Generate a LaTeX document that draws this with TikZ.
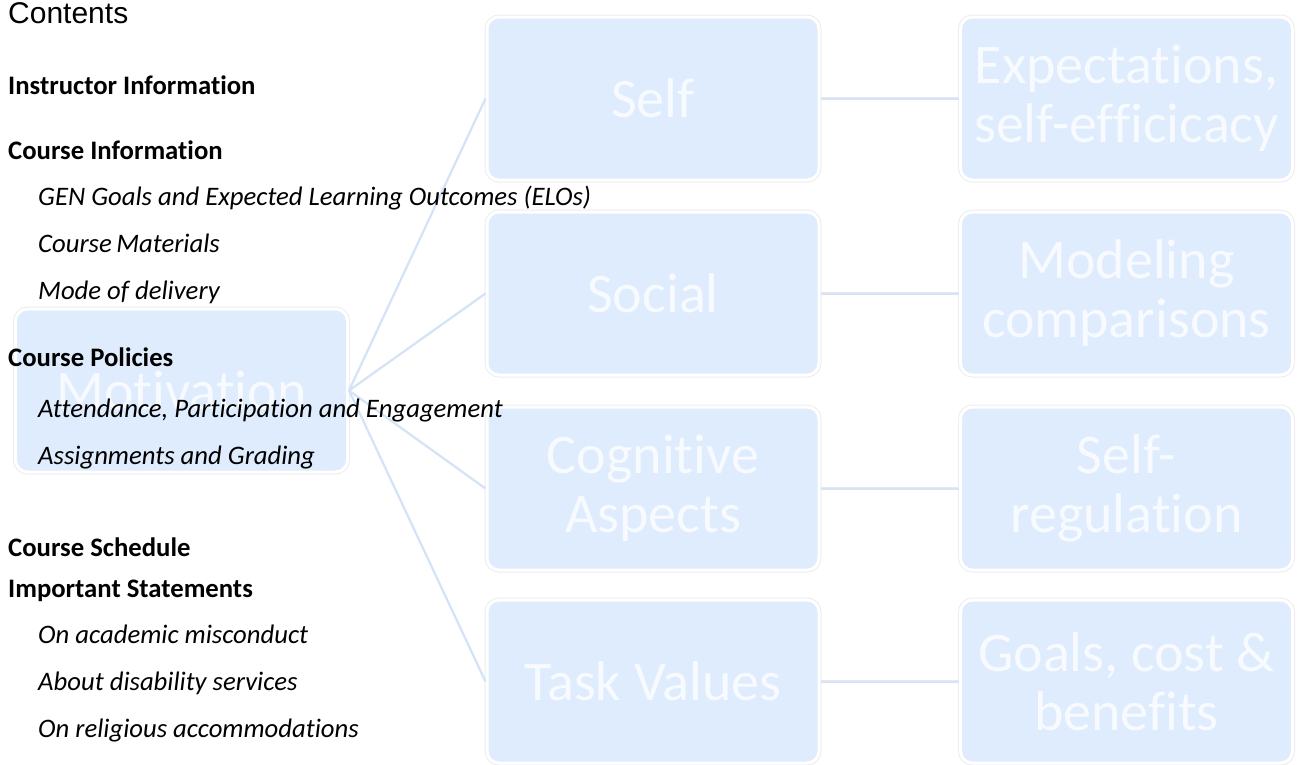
\documentclass[tikz,border=0pt]{standalone}
\usepackage{fontspec}
\setmainfont{Carlito}[RawFeature={-liga;-clig;-calt}]
\newfontfamily\arialfont{Liberation Sans}
\definecolor{boxblue}{HTML}{DFECFD}
\definecolor{linkblue}{HTML}{D4E3F8}
\definecolor{ringgray}{HTML}{EDEDED}
\definecolor{boxtext}{HTML}{F7FAFF}
\begin{document}
\begin{tikzpicture}[x=1pt,y=-1pt,
  sabox/.style={preaction={draw=ringgray,line width=5pt},fill=boxblue,draw=white,line width=3pt,
     rounded corners=12pt,minimum width=332pt,minimum height=163pt,inner sep=0pt,
     text=boxtext,align=center,font=\fontsize{56}{59}\selectfont},
  link/.style={draw=linkblue,line width=2.2pt},
  hlink/.style={preaction={draw=black!9,line width=3.6pt},draw=linkblue,line width=2pt},
  toch/.style={anchor=base west,inner sep=0pt,font=\fontsize{26.7}{30}\selectfont\bfseries},
  toci/.style={anchor=base west,inner sep=0pt,font=\fontsize{26.7}{30}\selectfont\itshape}]
\useasboundingbox (0,0) rectangle (1297,764);
\fill[white] (0,0) rectangle (1297,764);
% boxes
\node[sabox] (mot) at (181.5,390.5) {Motivation};
\node[sabox] (self) at (653,98.5) {Self};
\node[sabox] (soc) at (653,293.5) {Social};
\node[sabox] (cog) at (653,488.5) {Cognitive\\Aspects};
\node[sabox] (task) at (653,681.5) {Task Values};
\node[sabox] (exp) at (1126.5,98.5) {Expectations,\\self-efficicacy};
\node[sabox] (mod) at (1126.5,293.5) {Modeling\\comparisons};
\node[sabox] (reg) at (1126.5,488.5) {Self-\\regulation};
\node[sabox] (goal) at (1126.5,681.5) {Goals, cost \&\\benefits};
% connectors
\foreach \t in {self,soc,cog,task}{\draw[link] (mot.east) -- (\t.west);}
\draw[hlink] (self.east) -- (exp.west);
\draw[hlink] (soc.east) -- (mod.west);
\draw[hlink] (cog.east) -- (reg.west);
\draw[hlink] (task.east) -- (goal.west);
% contents
\node[anchor=base west,inner sep=0pt,font=\arialfont\fontsize{30}{34}\selectfont] (ct) at (8,23) {Contents};
\node[toch] (t1) at (8,94) {Instructor Information};
\node[toch] (t2) at (8,159) {Course Information};
\node[toci] (t3) at (38,205) {GEN Goals and Expected Learning Outcomes (ELOs)};
\node[toci] (t4) at (38,252) {Course\,Materials};
\node[toci] (t5) at (38,299) {Mode of delivery};
\node[toch] (t6) at (8,366) {Course Policies};
\node[toci] (t7) at (38,417) {Attendance, Participation and Engagement};
\node[toci] (t8) at (38,464) {Assignments and Grading};
\node[toch] (t9) at (8,556) {Course Schedule};
\node[toch] (t10) at (8,597) {Important Statements};
\node[toci] (t11) at (38,643) {On academic misconduct};
\node[toci] (t12) at (38,690) {About disability services};
\node[toci] (t13) at (38,737) {On religious accommodations};
\end{tikzpicture}
\end{document}
